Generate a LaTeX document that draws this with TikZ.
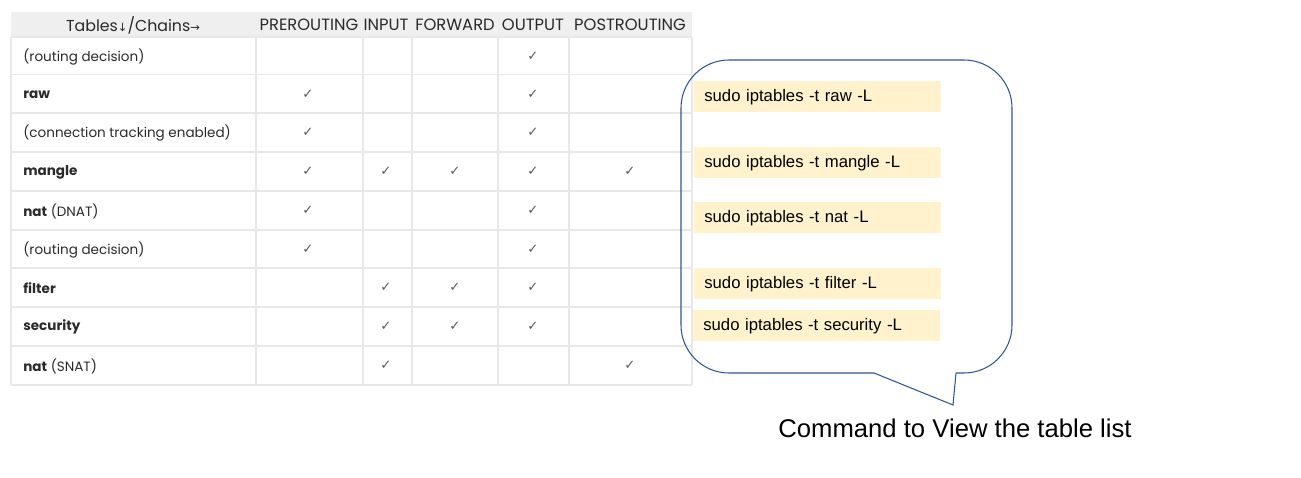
\documentclass[tikz,border=0pt]{standalone}
\usepackage{fontspec}
\setmainfont{Liberation Sans}
\newfontfamily\tablefont{Poppins}
\newfontfamily\symfont{DejaVu Sans}

\definecolor{gridline}{HTML}{E8E8E8}
\definecolor{headgray}{HTML}{EFEFEF}
\definecolor{cellink}{HTML}{2A2A2A}
\definecolor{ticktone}{HTML}{5A5A5A}
\definecolor{calloutblue}{HTML}{2F5597}
\definecolor{cmdfill}{HTML}{FFF2CC}

\tikzset{
  grid line/.style={gridline,line width=0.6pt},
  hdr/.style={font=\tablefont\fontsize{9.3}{11}\selectfont,text=cellink,inner sep=0pt},
  rowlabel/.style={font=\tablefont\fontsize{7.7}{9}\selectfont,text=cellink,anchor=west,inner sep=0pt},
  tick/.style={font=\symfont\fontsize{7.5}{8}\selectfont,text=ticktone,inner sep=0pt},
  cmd/.style={fill=cmdfill,anchor=north west,minimum width=4.94cm,minimum height=0.62cm,
    text width=4.54cm,inner xsep=0.2cm,align=left,font=\fontsize{9.5}{11}\selectfont},
  callout/.style={calloutblue,line width=0.6pt},
}
\newcommand{\hdrarrow}[1]{{\symfont\fontsize{6.5}{8}\selectfont#1}}

\begin{document}
\begin{tikzpicture}[x=0.02cm,y=-0.02cm]
    \useasboundingbox (0,0) rectangle (1301,477);
    % table
    \fill[headgray] (11,12) rectangle (692,37);
    \foreach \y in {37,74.5,113,152,191,230,268,307,346,385}
        \draw[grid line] (11,\y)--(692,\y);
    \foreach \x in {11,256,363,412,498,569,692}
        \draw[grid line] (\x,37)--(\x,385);
    \node[hdr,font=\tablefont\fontsize{9}{11}\selectfont] (hTables) at (133,25) {Tables\hdrarrow{↓}/Chains\hdrarrow{→}};
    \node[hdr] (hPre) at (309,25) {PREROUTING};
    \node[hdr] (hIn) at (386,25) {INPUT};
    \node[hdr] (hFwd) at (455,25) {FORWARD};
    \node[hdr] (hOut) at (533,25) {OUTPUT};
    \node[hdr] (hPost) at (630,25) {POSTROUTING};
    \foreach \n/\y/\t in {r1/57/(routing decision), r2/95/\textbf{raw},
        r3/133/(connection tracking enabled), r4/172/\textbf{mangle},
        r5/211/{\textbf{nat} (DNAT)}, r6/250/(routing decision),
        r7/288/\textbf{filter}, r8/327/\textbf{security}, r9/366/{\textbf{nat} (SNAT)}}
        \node[rowlabel] (\n) at (23,\y) {\t};
    % checks per row
    \foreach \y/\cols in {56/{533}, 94/{308,533}, 132/{308,533}, 171/{308,386,455,533,630},
        210/{308,533}, 249/{308,533}, 287/{386,455,533}, 326/{386,455,533}, 365/{386,630}}
        \foreach \x in \cols
            \node[tick] (tick-\x-\y) at (\x,\y) {✓};
    % callout
    \draw[callout,rounded corners=0.96cm] (874,373)--(681,373)--(681,60)--(1012,60)--(1012,373)--(956,373);
    \draw[callout] (874,373)--(953,405)--(956,373);
    \node[cmd] (cRaw) at (694,81) {sudo iptables -t raw -L};
    \node[cmd] (cMangle) at (694,147) {sudo iptables -t mangle -L};
    \node[cmd] (cNat) at (694,202) {sudo iptables -t nat -L};
    \node[cmd] (cFilter) at (694,268) {sudo iptables -t filter -L};
    \node[cmd] (cSecurity) at (693,310) {sudo iptables -t security -L};
    \node[font=\fontsize{14.6}{17}\selectfont] (caption) at (955,428) {Command to View the table list};
\end{tikzpicture}
\end{document}
